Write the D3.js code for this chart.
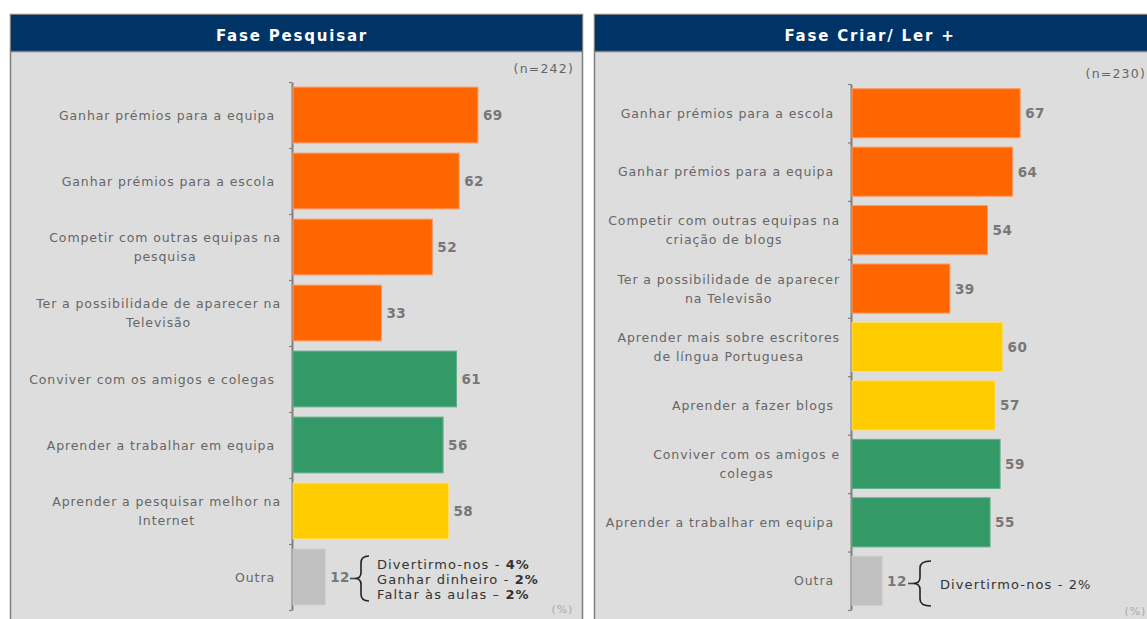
<!DOCTYPE html>
<html><head><meta charset="utf-8">
<script src="https://cdn.jsdelivr.net/npm/d3@7"></script>
<style>
html,body{margin:0;padding:0;background:#fff;}
svg{display:block;}
text{font-family:"DejaVu Sans",Verdana,sans-serif;}
</style></head>
<body>
<svg id="chart" width="1147" height="619"></svg>
<script>
// ---- data ----
const leftTitle = "Fase Pesquisar";
const leftN = "(n=242)";
const leftCategories = [
  "Ganhar prémios para a equipa",
  "Ganhar prémios para a escola",
  "Competir com outras equipas na\npesquisa",
  "Ter a possibilidade de aparecer na\nTelevisão",
  "Conviver com os amigos e colegas",
  "Aprender a trabalhar em equipa",
  "Aprender a pesquisar melhor na\nInternet",
  "Outra"
];
const leftValues = [69, 62, 52, 33, 61, 56, 58, 12];
const leftGroups = ["premio","premio","premio","premio","social","social","aprender","outra"];
const leftNotes = [["Divertirmo-nos - ","4%"],["Ganhar dinheiro - ","2%"],["Faltar às aulas – ","2%"]];

const rightTitle = "Fase Criar/ Ler +";
const rightN = "(n=230)";
const rightCategories = [
  "Ganhar prémios para a escola",
  "Ganhar prémios para a equipa",
  "Competir com outras equipas na\ncriação de blogs",
  "Ter a possibilidade de aparecer\nna Televisão",
  "Aprender mais sobre escritores\nde língua Portuguesa",
  "Aprender a fazer blogs",
  "Conviver com os amigos e\ncolegas",
  "Aprender a trabalhar em equipa",
  "Outra"
];
const rightValues = [67, 64, 54, 39, 60, 57, 59, 55, 12];
const rightGroups = ["premio","premio","premio","premio","aprender","aprender","social","social","outra"];
const rightNotes = [["Divertirmo-nos - 2%",""]];

const unitLabel = "(%)";

// ---- styles ----
const color = d3.scaleOrdinal()
  .domain(["premio","social","aprender","outra"])
  .range(["#ff6600","#339966","#ffcc00","#c0c0c0"]);
const strokeColor = d3.scaleOrdinal()
  .domain(["premio","social","aprender","outra"])
  .range(["#ff9966","#5fb08a","#ffdd66","#cccccc"]);

const svg = d3.select("#chart");

function brace(xt, xm, xr, y0, y1) {
  const ym = (y0 + y1) / 2;
  return `M${xr},${y0} Q${xm},${y0} ${xm},${y0+7} L${xm},${ym-6} Q${xm},${ym} ${xt},${ym} Q${xm},${ym} ${xm},${ym+6} L${xm},${y1-7} Q${xm},${y1} ${xr},${y1}`;
}

function panel(cfg) {
  const g = svg.append("g");
  // body
  g.append("rect").attr("x", cfg.px + 0.5).attr("y", cfg.py + 0.5)
    .attr("width", cfg.pw).attr("height", 640)
    .attr("fill", "#dddddd").attr("stroke", "#808080").attr("stroke-width", 1.5);
  // header
  g.append("rect").attr("x", cfg.px + 1).attr("y", cfg.py + 1)
    .attr("width", cfg.pw - 1).attr("height", 36).attr("fill", "#003366");
  g.append("line").attr("x1", cfg.px).attr("x2", cfg.px + cfg.pw + 1)
    .attr("y1", cfg.py + 37.5).attr("y2", cfg.py + 37.5)
    .attr("stroke", "#808080").attr("stroke-width", 1.5);
  g.append("text").attr("x", cfg.titleX).attr("y", cfg.py + 26.5)
    .attr("text-anchor", "middle").attr("fill", "#fff")
    .attr("font-weight", "bold").attr("font-size", 15).attr("letter-spacing", 1.8)
    .text(cfg.title);
  g.append("text").attr("x", cfg.nX).attr("y", cfg.nY)
    .attr("text-anchor", "end").attr("fill", "#666").attr("font-size", 12.5)
    .attr("letter-spacing", 1.2).text(cfg.n);
  g.append("text").attr("x", cfg.unitX).attr("y", cfg.unitY)
    .attr("text-anchor", "end").attr("fill", "#aaa").attr("font-size", 11)
    .attr("letter-spacing", 0.8).text(unitLabel);

  const y = d3.scaleBand().domain(cfg.categories).range(cfg.yRange)
    .paddingInner(cfg.pad).paddingOuter(cfg.pad / 2);
  const x = d3.scaleLinear().domain([0, 100]).range(cfg.xRange);

  // axis with ticks at band boundaries
  const yb = d3.scaleLinear().domain([0, cfg.categories.length]).range(cfg.yRange);
  const ax = g.append("g").attr("transform", `translate(${cfg.xRange[0] - 1},0)`)
    .call(d3.axisLeft(yb).tickValues(d3.range(cfg.categories.length + 1))
      .tickSize(3).tickSizeOuter(0).tickFormat(""));
  ax.select(".domain").attr("stroke", "#808080").attr("stroke-width", 2);
  ax.selectAll(".tick line").attr("stroke", "#808080").attr("stroke-width", 1.2);

  const rows = cfg.categories.map((c, i) => ({c, v: cfg.values[i], grp: cfg.groups[i]}));

  g.selectAll("rect.bar").data(rows).join("rect").attr("class", "bar")
    .attr("x", x(0)).attr("y", d => y(d.c))
    .attr("width", d => x(d.v) - x(0)).attr("height", y.bandwidth())
    .attr("fill", d => color(d.grp))
    .attr("stroke", d => strokeColor(d.grp)).attr("stroke-width", 1);

  g.selectAll("text.val").data(rows).join("text").attr("class", "val")
    .attr("x", d => x(d.v) + 5).attr("y", d => y(d.c) + y.bandwidth() / 2 + 5)
    .attr("fill", "#777").attr("font-weight", "bold").attr("font-size", 13.5)
    .attr("letter-spacing", 0.5)
    .text(d => d.v);

  // category labels
  g.selectAll("text.lab").data(rows).join("text").attr("class", "lab")
    .attr("fill", "#666").attr("font-size", 12.5).attr("letter-spacing", 0.9)
    .attr("text-anchor", "middle")
    .each(function(d) {
      const t = d3.select(this);
      const lines = d.c.split("\n");
      const cy = y(d.c) + y.bandwidth() / 2;
      const lh = 19;
      lines.forEach((ln, k) => {
        t.append("tspan").attr("y", cy + 4.5 + (k - (lines.length - 1) / 2) * lh).text(ln);
      });
      let w = 0;
      t.selectAll("tspan").each(function() { w = Math.max(w, this.getComputedTextLength()); });
      const right = lines.length > 1 ? cfg.labelRight : cfg.labelRight - 6;
      t.selectAll("tspan").attr("x", right - w / 2);
    });

  // brace annotation on last bar
  const b = cfg.brace;
  g.append("path").attr("d", brace(b.xt, b.xm, b.xr, b.y0, b.y1))
    .attr("fill", "none").attr("stroke", "#222").attr("stroke-width", 1.6);
  g.append("line").attr("x1", b.dash0).attr("x2", b.xt).attr("y1", (b.y0 + b.y1) / 2).attr("y2", (b.y0 + b.y1) / 2)
    .attr("stroke", "#444").attr("stroke-width", 1.6);
  const nt = g.append("text").attr("font-size", 13).attr("fill", "#333").attr("letter-spacing", 1.1);
  cfg.notes.forEach((n, k) => {
    nt.append("tspan").attr("x", b.textX)
      .attr("y", (b.y0 + b.y1) / 2 + 5 + (k - (cfg.notes.length - 1) / 2) * 15).text(n[0]);
    if (n[1]) nt.append("tspan").attr("font-weight", "bold").text(n[1]);
  });
}

panel({
  px: 10, py: 14, pw: 572, title: leftTitle, titleX: 292, n: leftN, nX: 574, nY: 73,
  unitX: 573, unitY: 613,
  categories: leftCategories, values: leftValues, groups: leftGroups, notes: leftNotes,
  yRange: [82, 610], pad: 0.155, xRange: [293, 561], labelRight: 281,
  brace: {dash0: 350, xt: 355, xm: 361, xr: 369, y0: 556, y1: 601, textX: 377}
});
panel({
  px: 594, py: 14, pw: 570, title: rightTitle, titleX: 870, n: rightN, nX: 1146, nY: 78,
  unitX: 1146, unitY: 615,
  categories: rightCategories, values: rightValues, groups: rightGroups, notes: rightNotes,
  yRange: [84, 610], pad: 0.16, xRange: [852, 1103], labelRight: 840,
  brace: {dash0: 908, xt: 913, xm: 920, xr: 931, y0: 561, y1: 606, textX: 940}
});
</script>
</body></html>
